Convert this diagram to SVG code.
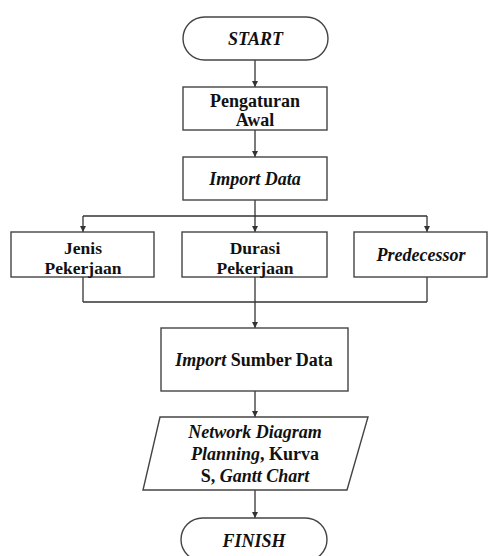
<svg xmlns="http://www.w3.org/2000/svg" width="488" height="556" viewBox="0 0 488 556">
<defs>
<style>
.box{fill:#fff;stroke:#444;stroke-width:1.4}
.ln{fill:none;stroke:#333;stroke-width:1.3}
.t{font-family:"Liberation Serif","Times New Roman",serif;font-weight:bold;font-size:18px;fill:#111;text-anchor:middle}
.s{font-size:17.5px}
.i{font-style:italic}
</style>
<marker id="ah" markerWidth="8" markerHeight="8" refX="6" refY="3" orient="auto" markerUnits="userSpaceOnUse">
<path d="M0,0 L6,3 L0,6 Z" fill="#333"/>
</marker>
</defs>
<rect width="488" height="556" fill="#fff"/>
<g id="connectors">
<line class="ln" x1="255" y1="60" x2="255" y2="87" marker-end="url(#ah)"/>
<line class="ln" x1="255" y1="130" x2="255" y2="157" marker-end="url(#ah)"/>
<line class="ln" x1="255" y1="200" x2="255" y2="216"/>
<line class="ln" x1="83" y1="216" x2="427" y2="216"/>
<line class="ln" x1="83" y1="216" x2="83" y2="232" marker-end="url(#ah)"/>
<line class="ln" x1="255" y1="216" x2="255" y2="232" marker-end="url(#ah)"/>
<line class="ln" x1="427" y1="216" x2="427" y2="232" marker-end="url(#ah)"/>
<line class="ln" x1="83" y1="277" x2="83" y2="302"/>
<line class="ln" x1="255" y1="277" x2="255" y2="302"/>
<line class="ln" x1="427" y1="277" x2="427" y2="302"/>
<line class="ln" x1="83" y1="302" x2="427" y2="302"/>
<line class="ln" x1="255" y1="302" x2="255" y2="328" marker-end="url(#ah)"/>
<line class="ln" x1="255" y1="391" x2="255" y2="417" marker-end="url(#ah)"/>
<line class="ln" x1="255" y1="490" x2="255" y2="518" marker-end="url(#ah)"/>
</g>
<g id="start">
<rect class="box" x="183" y="17" width="145" height="43" rx="21.5"/>
<text class="t i" x="255.5" y="45">START</text>
</g>
<g id="pengaturan">
<rect class="box" x="183" y="87" width="144" height="43"/>
<text class="t" x="255" y="107">Pengaturan</text>
<text class="t" x="255" y="126">Awal</text>
</g>
<g id="import-data">
<rect class="box" x="183" y="157" width="144" height="43"/>
<text class="t i" x="255" y="185">Import Data</text>
</g>
<g id="jenis">
<rect class="box" x="11" y="232" width="143" height="45"/>
<text class="t s" x="83" y="254">Jenis</text>
<text class="t s" x="83" y="274">Pekerjaan</text>
</g>
<g id="durasi">
<rect class="box" x="182" y="232" width="145" height="45"/>
<text class="t s" x="255" y="254">Durasi</text>
<text class="t s" x="255" y="274">Pekerjaan</text>
</g>
<g id="predecessor">
<rect class="box" x="354" y="232" width="133" height="45"/>
<text class="t i" x="421" y="261">Predecessor</text>
</g>
<g id="import-sumber">
<rect class="box" x="161" y="328" width="187" height="63"/>
<text class="t" x="254" y="366"><tspan class="i">Import</tspan> Sumber Data</text>
</g>
<g id="output">
<polygon class="box" points="160,417 368,417 347,490 143,490"/>
<text class="t i" x="255" y="438">Network Diagram</text>
<text class="t" x="255" y="460"><tspan class="i">Planning</tspan>, Kurva</text>
<text class="t" x="255" y="482">S, <tspan class="i">Gantt Chart</tspan></text>
</g>
<g id="finish">
<rect class="box" x="181" y="518" width="146" height="43" rx="21.5"/>
<text class="t i" x="254" y="547">FINISH</text>
</g>
</svg>
